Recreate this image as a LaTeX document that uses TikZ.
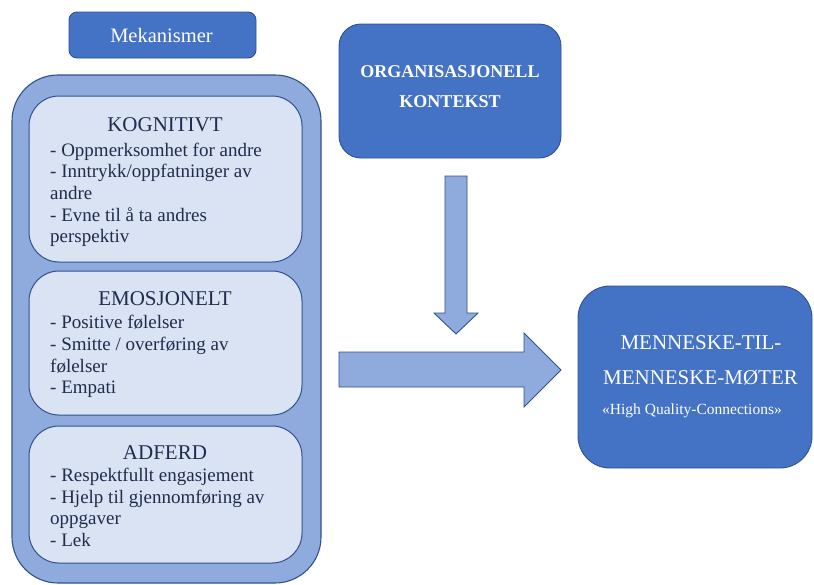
\documentclass[tikz,border=0pt]{standalone}
\usepackage{fontspec}
\setmainfont{Liberation Serif}
\definecolor{darkfill}{HTML}{4472C4}
\definecolor{edge}{HTML}{2F528F}
\definecolor{lightfill}{HTML}{8FAADC}
\definecolor{palefill}{HTML}{DAE3F3}
\definecolor{navytext}{HTML}{1F2C4C}
\tikzset{
  darkbox/.style={draw=edge, fill=darkfill, line width=0.9pt, inner sep=0pt},
  outerbox/.style={draw=edge, fill=lightfill, line width=1.1pt, inner sep=0pt, rounded corners=46pt},
  innerbox/.style={draw=edge, fill=palefill, line width=1pt, inner sep=0pt, rounded corners=30pt},
  blockarrow/.style={draw=edge, fill=lightfill, line width=0.9pt, line join=miter},
  title/.style={anchor=base, text=navytext, inner sep=0pt, font=\fontsize{21}{24}\selectfont},
  item/.style={anchor=base west, text=navytext, inner sep=0pt, font=\fontsize{19}{22}\selectfont},
  whitetext/.style={anchor=base, text=white, inner sep=0pt},
}
\begin{document}
\begin{tikzpicture}[x=1pt, y=-1pt]
\useasboundingbox (0,0) rectangle (814,584);

% heading box
\node[darkbox, rounded corners=8pt, minimum width=187pt, minimum height=46pt] (mek) at (162.5,35) {};
\node[whitetext, font=\fontsize{20.5}{24}\selectfont] (mektxt) at (161.5,42) {Mekanismer};

% container of the three mechanism groups
\node[outerbox, minimum width=309pt, minimum height=508pt] (outer) at (166.5,329) {};

% cognitive
\node[innerbox, minimum width=273pt, minimum height=166pt] (kog) at (165.5,179) {};
\node[title] (kogT) at (165,131) {KOGNITIVT};
\node[item] (k1) at (50,156) {- Oppmerksomhet for andre};
\node[item] (k2) at (50,177.7) {- Inntrykk/oppfatninger av};
\node[item] (k3) at (50,199.4) {andre};
\node[item] (k4) at (50,221) {- Evne til å ta andres};
\node[item] (k5) at (50,242.8) {perspektiv};

% emotional
\node[innerbox, minimum width=273pt, minimum height=144pt] (emo) at (165.5,343) {};
\node[title] (emoT) at (165,305.7) {EMOSJONELT};
\node[item] (e1) at (50,328) {- Positive følelser};
\node[item] (e2) at (50,350.5) {- Smitte / overføring av};
\node[item] (e3) at (50,372) {følelser};
\node[item] (e4) at (50,393.5) {- Empati};

% behaviour
\node[innerbox, minimum width=273pt, minimum height=137pt] (adf) at (165.5,494.5) {};
\node[title] (adfT) at (165,459) {ADFERD};
\node[item] (a1) at (50,481) {- Respektfullt engasjement};
\node[item] (a2) at (50,503) {- Hjelp til gjennomføring av};
\node[item] (a3) at (50,524.5) {oppgaver};
\node[item] (a4) at (50,546.5) {- Lek};

% organisational context
\node[darkbox, rounded corners=22pt, minimum width=222pt, minimum height=134pt] (org) at (450,91) {};
\node[whitetext, font=\bfseries\fontsize{18}{20}\selectfont] (org1) at (450,77) {ORGANISASJONELL};
\node[whitetext, font=\bfseries\fontsize{18}{20}\selectfont] (org2) at (450,107) {KONTEKST};

% outcome
\node[darkbox, rounded corners=32pt, minimum width=234pt, minimum height=182pt] (hqc) at (695,377) {};
\node[whitetext, font=\fontsize{21}{24}\selectfont] (h1) at (701,349) {MENNESKE-TIL-};
\node[whitetext, font=\fontsize{21}{24}\selectfont] (h2) at (700.5,384) {MENNESKE-MØTER};
\node[whitetext, font=\fontsize{15.5}{18}\selectfont] (h3) at (692,414) {«High Quality-Connections»};

% block arrows
\draw[blockarrow] (445,176) -- (467,176) -- (467,313) -- (478,313) -- (456,334)
  -- (434,313) -- (445,313) -- cycle;
\draw[blockarrow] (339,352) -- (524,352) -- (524,333) -- (561,370) -- (524,407)
  -- (524,387) -- (339,387) -- cycle;
\end{tikzpicture}
\end{document}
